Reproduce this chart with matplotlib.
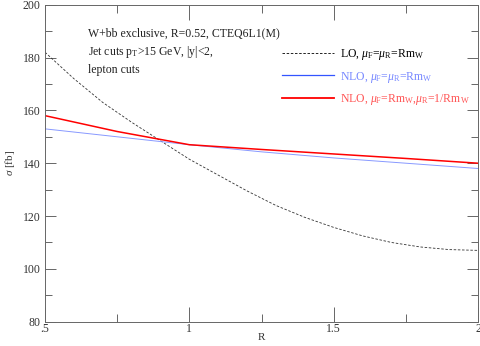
import numpy as np
import matplotlib
matplotlib.use("Agg")
from matplotlib import pyplot as plt
from matplotlib.ticker import MultipleLocator, FuncFormatter

plt.rcParams['font.family'] = ['Liberation Serif', 'DejaVu Serif']
plt.rcParams['mathtext.fontset'] = 'custom'
plt.rcParams['mathtext.rm'] = 'Liberation Serif'
plt.rcParams['mathtext.it'] = 'Liberation Serif:italic'

# data
r_lo = [0.5, 0.6, 0.7, 0.8, 0.9, 1.0, 1.1, 1.2, 1.3, 1.4, 1.5, 1.6, 1.7, 1.8, 1.9, 2.0]
sigma_lo = [182, 172, 163, 155.5, 148.5, 141.5, 135.5, 129.5, 124, 119.5, 115.7, 112.5, 110, 108.3, 107.3, 107]
r_nlo = [0.5, 0.75, 1.0, 1.25, 1.5, 1.75, 2.0]
sigma_nlo_blue = [153, 150, 147, 144.3, 142, 140, 138]
sigma_nlo_red = [158, 152, 147, 145.2, 143.5, 141.8, 140]

labels = [r'LO, $\mu_{\rm F}$=$\mu_{\rm R}$=Rm$_{\rm W}$',
          r'NLO, $\mu_{\rm F}$=$\mu_{\rm R}$=Rm$_{\rm W}$',
          r'NLO, $\mu_{\rm F}$=Rm$_{\rm W}$,$\mu_{\rm R}$=1/Rm$_{\rm W}$']

fig = plt.figure(figsize=(4.81, 3.46), dpi=100)
ax = fig.add_axes([0.0936, 0.0702, 0.9002, 0.9162])

ax.plot(r_lo, sigma_lo, color="#333333", lw=0.6, dashes=(3, 2), label=labels[0])
ax.plot(r_nlo, sigma_nlo_blue, color="#8899ff", lw=0.7, label=labels[1])
ax.plot(r_nlo, sigma_nlo_red, color="#ff0000", lw=1.1, label=labels[2])

ax.set_xlim(0.5, 2)
ax.set_ylim(80, 200)
ax.xaxis.set_major_locator(MultipleLocator(0.5))
ax.xaxis.set_minor_locator(MultipleLocator(0.25))
ax.yaxis.set_major_locator(MultipleLocator(20))
ax.yaxis.set_minor_locator(MultipleLocator(10))
ax.xaxis.set_major_formatter(FuncFormatter(lambda v, p: ".5" if v == 0.5 else f"{v:g}"))
ax.tick_params(which="both", direction="in", top=True, right=True, color="#666666",
               labelsize=8.5, labelcolor="#333333", width=0.7)
ax.tick_params(axis="x", which="major", length=11, pad=1)
ax.tick_params(axis="x", which="minor", length=6)
ax.tick_params(axis="y", which="major", length=8, pad=3)
ax.tick_params(axis="y", which="minor", length=5)
for s in ax.spines.values():
    s.set_color("#666666")
    s.set_linewidth(0.7)

ax.set_xlabel("R", fontsize=8, color="#333333")
ax.xaxis.set_label_coords(0.5, -0.035)
ax.set_ylabel(r"$\sigma$ [fb]", fontsize=8, color="#333333")
ax.yaxis.set_label_coords(-0.065, 0.5)

ax.text(0.1, 0.93, "W+bb exclusive, R=0.52, CTEQ6L1(M)\nJet cuts p$_{\\rm T}$>15 GeV, |y|<2,\nlepton cuts",
        transform=ax.transAxes, fontsize=8.5, color="#222222", va="top", linespacing=1.45)

leg = ax.legend(loc="upper left", bbox_to_anchor=(0.537, 0.88), frameon=False, fontsize=8.5,
                handlelength=4.4, handletextpad=0.5, labelspacing=0.6, borderaxespad=0,
                labelcolor=["black", "#7788ff", "#ff5555"])
leg.legend_handles[1].set_color("#3355ff")
leg.legend_handles[1].set_linewidth(0.9)
leg.legend_handles[2].set_linewidth(1.3)
leg.legend_handles[0].set_color("black")

fig.savefig("out.png", dpi=100)
